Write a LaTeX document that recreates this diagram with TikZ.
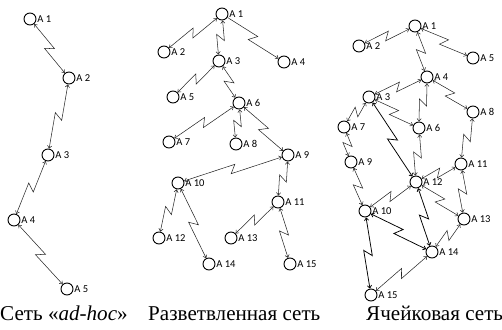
\documentclass[tikz,border=0pt]{standalone}
\usepackage{fontspec}
\setmainfont{Liberation Serif}
\newfontfamily\labelfont{Carlito}
\usetikzlibrary{calc,arrows.meta}

% radio link with a lightning kink in the middle
\newcommand{\wlink}[3][]{%
  \draw[link,#1] (#2) -- ($(#2)!0.5!(#3)!2.5pt!(#3)!3.5pt!90:(#3)$)
    -- ($(#2)!0.5!(#3)!2.5pt!(#2)!3.5pt!90:(#2)$) -- (#3);}

\begin{document}
\begin{tikzpicture}[x=0.03cm,y=-0.03cm,>={Straight Barb[length=2.2pt,width=3.6pt]}]
        \tikzstyle{station} = [circle, draw, line width=0.8pt, minimum size=0.36cm, inner sep=0pt, label distance=1.5pt]
        \tikzstyle{lbl} = [font=\labelfont\fontsize{9}{10}\selectfont, inner sep=0.5pt]
        \tikzstyle{link} = [<->, line width=0.45pt, black!85]
        \tikzstyle{heavy} = [line width=0.65pt, black]
        \tikzstyle{caption} = [font=\fontsize{18}{20}\selectfont, anchor=base west, inner sep=0pt]

        \useasboundingbox (0,0) rectangle (502,329);

        % Nodes: ad-hoc network
        \node[station, label={[lbl]right:A 1}] (hoc1) at (30,19) {};
        \node[station, label={[lbl]right:A 2}] (hoc2) at (69,78) {};
        \node[station, label={[lbl]right:A 3}] (hoc3) at (48,155) {};
        \node[station, label={[lbl]right:A 4}] (hoc4) at (14,220) {};
        \node[station, label={[lbl]right:A 5}] (hoc5) at (67,289) {};

        % Nodes: tree network
        \node[station, label={[lbl]right:A 1}] (tree1) at (222,14) {};
        \node[station, label={[lbl]right:A 2}] (tree2) at (164,52) {};
        \node[station, label={[lbl]right:A 3}] (tree3) at (219,61) {};
        \node[station, label={[lbl]right:A 4}] (tree4) at (284,62) {};
        \node[station, label={[lbl]right:A 5}] (tree5) at (173,97) {};
        \node[station, label={[lbl]right:A 6}] (tree6) at (239,103) {};
        \node[station, label={[lbl]right:A 7}] (tree7) at (169,142) {};
        \node[station, label={[lbl]right:A 8}] (tree8) at (236,144) {};
        \node[station, label={[lbl]right:A 9}] (tree9) at (288,155) {};
        \node[station, label={[lbl]right:A 10}] (tree10) at (178,183) {};
        \node[station, label={[lbl]right:A 11}] (tree11) at (278,202) {};
        \node[station, label={[lbl]right:A 12}] (tree12) at (159,238) {};
        \node[station, label={[lbl]right:A 13}] (tree13) at (231,238) {};
        \node[station, label={[lbl]right:A 14}] (tree14) at (209,264) {};
        \node[station, label={[lbl]right:A 15}] (tree15) at (290,264) {};

        % Nodes: mesh network
        \node[station, label={[lbl]right:A 1}] (mesh1) at (415,26) {};
        \node[station, label={[lbl]right:A 2}] (mesh2) at (359,46) {};
        \node[station, label={[lbl]right:A 3}] (mesh3) at (369,97) {};
        \node[station, label={[lbl]right:A 4}] (mesh4) at (427,77) {};
        \node[station, label={[lbl]right:A 5}] (mesh5) at (473,58) {};
        \node[station, label={[lbl]right:A 6}] (mesh6) at (419,128) {};
        \node[station, label={[lbl]right:A 7}] (mesh7) at (344,127) {};
        \node[station, label={[lbl]right:A 8}] (mesh8) at (473,112) {};
        \node[station, label={[lbl]right:A 9}] (mesh9) at (351,162) {};
        \node[station, label={[lbl]right:A 10}] (mesh10) at (365,211) {};
        \node[station, label={[lbl]right:A 11}] (mesh11) at (461,164) {};
        \node[station, label={[lbl]right:A 12}] (mesh12) at (416,182) {};
        \node[station, label={[lbl]right:A 13}] (mesh13) at (464,219) {};
        \node[station, label={[lbl]right:A 14}] (mesh14) at (432,252) {};
        \node[station, label={[lbl]right:A 15}] (mesh15) at (371,295) {};

        % Captions
        \node[caption] (hoccap) at (0,320) {Сеть «\textit{ad-hoc}»};
        \node[caption] (treecap) at (148,320) {Разветвленная сеть};
        \node[caption] (meshcap) at (366,320) {Ячейковая сеть};

        % Links: ad-hoc
        \wlink{hoc1}{hoc2}
        \wlink{hoc2}{hoc3}
        \wlink{hoc3}{hoc4}
        \wlink{hoc4}{hoc5}

        % Links: tree
        \wlink{tree1}{tree2}
        \wlink{tree1}{tree3}
        \wlink[-{Straight Barb[length=2.2pt,width=3.6pt]}]{tree1}{tree4}
        \wlink{tree3}{tree5}
        \wlink{tree3}{tree6}
        \wlink{tree6}{tree7}
        \wlink{tree6}{tree8}
        \wlink{tree6}{tree9}
        \wlink{tree9}{tree10}
        \wlink{tree9}{tree11}
        \wlink{tree10}{tree12}
        \wlink{tree10}{tree14}
        \wlink{tree11}{tree13}
        \wlink{tree11}{tree15}

        % Links: mesh
        \wlink{mesh1}{mesh2}
        \wlink{mesh1}{mesh5}
        \wlink{mesh1}{mesh4}
        \wlink{mesh4}{mesh3}
        \wlink{mesh4}{mesh6}
        \wlink{mesh4}{mesh8}
        \wlink{mesh3}{mesh7}
        \wlink{mesh3}{mesh6}
        \wlink[heavy]{mesh3}{mesh12}
        \wlink{mesh7}{mesh9}
        \wlink{mesh9}{mesh10}
        \wlink{mesh6}{mesh12}
        \wlink{mesh8}{mesh11}
        \wlink{mesh11}{mesh12}
        \wlink{mesh11}{mesh13}
        \wlink{mesh12}{mesh10}
        \wlink{mesh12}{mesh13}
        \wlink[heavy]{mesh12}{mesh14}
        \wlink[heavy]{mesh10}{mesh14}
        \wlink[heavy]{mesh10}{mesh15}
        \wlink{mesh13}{mesh14}
        \wlink{mesh14}{mesh15}
    \end{tikzpicture}
\end{document}
